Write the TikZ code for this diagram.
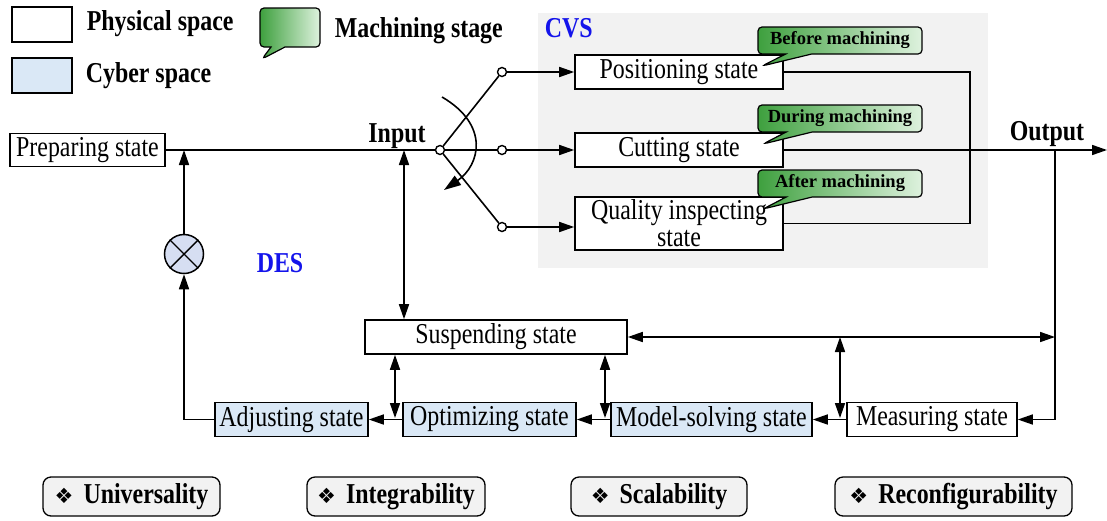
\documentclass[tikz,border=0pt]{standalone}
\usepackage{fontspec}
\setmainfont[FakeStretch=0.83]{Liberation Serif}
\newfontfamily\tagfont{Liberation Serif}
\newfontfamily\symfont{DejaVu Sans}
\usetikzlibrary{arrows.meta,shapes.callouts}

\definecolor{cyberfill}{RGB}{218,232,246}
\definecolor{cvsgray}{RGB}{242,242,242}
\definecolor{labelblue}{RGB}{20,20,235}
\definecolor{greendark}{RGB}{62,160,62}
\definecolor{greenlight}{RGB}{222,242,222}
\definecolor{mulfill}{RGB}{214,222,242}
\definecolor{featfill}{RGB}{242,242,242}

\tikzset{
  every path/.style={line width=1.6pt},
  >={Triangle[length=15pt,width=10pt]},
  statebox/.style={draw, line width=1.6pt, fill=white, inner sep=0pt,
    minimum height=34, font=\fontsize{28.8}{27}\selectfont},
  cyberbox/.style={statebox, fill=cyberfill},
  pinball/.style={circle, draw, fill=white, inner sep=0pt, minimum size=9, line width=1.4pt},
  stagetag/.style={rectangle callout, draw, line width=1.2pt, rounded corners=4pt,
    left color=greendark, right color=greenlight, inner sep=0pt,
    minimum width=164, minimum height=27, callout pointer width=26pt,
    font=\tagfont\bfseries\fontsize{18.5}{19}\selectfont},
  featbox/.style={draw, rounded corners=8pt, fill=featfill, line width=1.3pt,
    minimum height=39, inner sep=0pt, font=\bfseries\fontsize{28.8}{30}\selectfont},
  boldlab/.style={font=\bfseries\fontsize{28.8}{30}\selectfont, inner sep=0pt},
  bluelab/.style={boldlab, text=labelblue}
}

\begin{document}
\begin{tikzpicture}[x=1pt,y=-1pt]
\useasboundingbox (0,0) rectangle (1107,520);

% CVS background
\fill[cvsgray] (538,13) rectangle (988,268);

% legend
\node[statebox, minimum width=60, minimum height=35] (lgphys) at (42,24.5) {};
\node[boldlab, anchor=west] (lgphyst) at (86,24) {Physical space};
\node[cyberbox, minimum width=60, minimum height=35] (lgcyb) at (42,75.5) {};
\node[boldlab, anchor=west] (lgcybt) at (85,76) {Cyber space};
\node[stagetag, minimum width=60, minimum height=39, callout pointer width=14pt,
      callout absolute pointer={(262,59)}] (lgtag) at (290,27.5) {};
\node[boldlab, anchor=west] (lgtagt) at (334,31) {Machining stage};

\node[bluelab, anchor=west] (cvs) at (544,28) {CVS};
\node[bluelab] (des) at (280,263) {DES};

% states
\node[statebox, minimum width=155, minimum height=33] (prep) at (87.5,150) {Preparing state};
\node[statebox, minimum width=208] (pos) at (679,72) {Positioning state};
\node[statebox, minimum width=208] (cut) at (679,150) {Cutting state};
\node[statebox, minimum width=208, minimum height=53, align=center] (qual) at (679,223.5) {Quality inspecting\\state};
\node[statebox, minimum width=262] (susp) at (496,337) {Suspending state};
\node[cyberbox, minimum width=153] (adj) at (291.5,419.5) {Adjusting state};
\node[cyberbox, minimum width=173] (opt) at (489.5,419.5) {Optimizing state};
\node[cyberbox, minimum width=201] (mod) at (711.5,419.5) {Model-solving state};
\node[statebox, minimum width=170] (meas) at (932,419.5) {Measuring state};

% stage tags
\node[stagetag, callout absolute pointer={(762,66)}] (tag1) at (840,40.5) {Before machining};
\node[stagetag, callout absolute pointer={(763,144)}] (tag2) at (840,118.5) {During machining};
\node[stagetag, callout absolute pointer={(763,209)}] (tag3) at (840,183.5) {After machining};

% input switch
\node[pinball] (sw) at (440,150) {};
\node[pinball] (s1) at (502,72) {};
\node[pinball] (s2) at (502,150) {};
\node[pinball] (s3) at (502,227) {};
\draw (sw) -- (s1);
\draw[line width=2.2pt] (sw) -- (s2);
\draw (sw) -- (s3);
\draw[->] (s1) -- (pos.west);
\draw[->] (s2) -- (cut.west);
\draw[->] (s3) -- (s3 -| qual.west);
\coordinate (arcA) at (442,97);
\coordinate (arcB) at (444,190);
\draw[-{Triangle[length=17pt,width=11pt]}] (arcA) .. controls (490,125) and (480,165) .. (arcB);

\node[boldlab] (inlab) at (397,136) {Input};
\draw (prep.east) -- (sw);

% feedback through the multiplier
\node[circle, draw, fill=mulfill, minimum size=39, inner sep=0pt, line width=1.5pt] (mul) at (184,254) {};
\draw[line width=1.4pt] (mul.north west) -- (mul.south east);
\draw[line width=1.4pt] (mul.north east) -- (mul.south west);
\draw[->] (mul.north) -- (mul.north |- prep.east);
\draw[->] (adj.west) -| (mul.south);

% input to suspending
\coordinate (injoin) at (404,150);
\draw[<->] (injoin) -- (injoin |- susp.north);

% CVS outputs
\coordinate (rb) at (970,150);
\draw (pos.east) -| (rb) |- (qual.east);
\coordinate (outend) at (1107,150);
\draw[->] (cut.east) -- (outend);
\node[boldlab] (outlab) at (1047,134) {Output};
\coordinate (oj) at (1055,150);
\draw[->] (oj) |- (meas.east);
\draw[<->] (susp.east) -- (susp.east -| oj);

% DES chain
\draw[->] (meas.west) -- (mod.east);
\draw[->] (mod.west) -- (opt.east);
\draw[->] (opt.west) -- (adj.east);
\coordinate (v1) at (395,418);
\coordinate (v2) at (605,418);
\coordinate (v3) at (840,418);
\draw[<->] (susp.south -| v1) -- (v1);
\draw[<->] (susp.south -| v2) -- (v2);
\draw[<->] (susp.east -| v3) -- (v3);

% features
\node[featbox, minimum width=177] (f1) at (131.5,496.5) {{\symfont\fontsize{21}{21}\selectfont ❖}\hspace{10pt}Universality};
\node[featbox, minimum width=178] (f2) at (396,496.5) {{\symfont\fontsize{21}{21}\selectfont ❖}\hspace{10pt}Integrability};
\node[featbox, minimum width=176] (f3) at (659,496.5) {{\symfont\fontsize{21}{21}\selectfont ❖}\hspace{10pt}Scalability};
\node[featbox, minimum width=237] (f4) at (953.5,496.5) {{\symfont\fontsize{21}{21}\selectfont ❖}\hspace{10pt}Reconfigurability};
\end{tikzpicture}
\end{document}
